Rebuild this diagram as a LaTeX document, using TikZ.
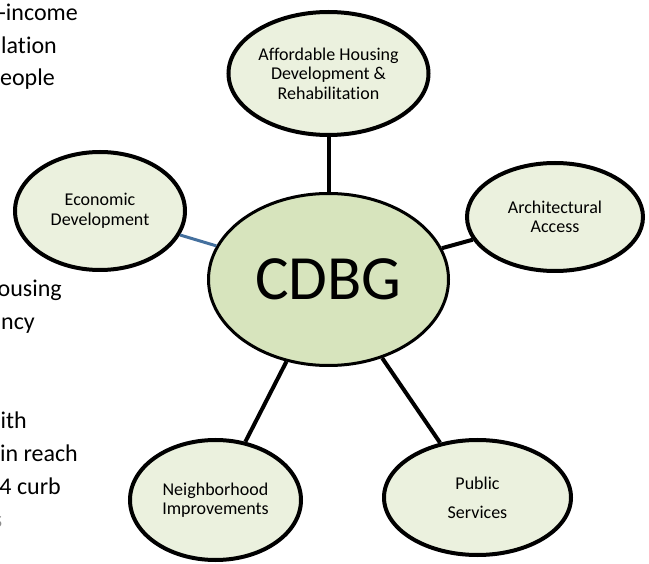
\documentclass[tikz,border=0pt]{standalone}
\usepackage{fontspec}
\setmainfont{Carlito}[Ligatures=NoCommon]
\usetikzlibrary{shapes.geometric}
\definecolor{leaffill}{HTML}{EBF1DE}
\definecolor{hubfill}{HTML}{D7E4BD}
\definecolor{bluelink}{HTML}{44709E}
\tikzset{
  leaf/.style={ellipse, draw=black, line width=4pt, fill=leaffill, inner sep=0pt,
    align=center, font=\fontsize{18}{19.5}\selectfont},
  hub/.style={ellipse, draw=black, line width=3pt, fill=hubfill, inner sep=0pt,
    font=\fontsize{63}{70}\selectfont},
  link/.style={draw=black, line width=4pt},
  bluelinkstyle/.style={draw=bluelink, line width=3pt},
  sidetext/.style={anchor=base east, inner sep=0pt, font=\fontsize{24}{32}\selectfont}
}
\begin{document}
\begin{tikzpicture}[x=1pt,y=-1pt]
\useasboundingbox (0,0) rectangle (649,564);
\begin{scope}
\clip (0,0) rectangle (649,564);
% cut-off side text
\node[sidetext] (t1) at (78,21) {-income};
\node[sidetext] (t2) at (57,54) {lation};
\node[sidetext] (t3) at (55,86) {eople};
\node[sidetext] (t4) at (62,297) {ousing};
\node[sidetext] (t5) at (35,330) {ncy};
\node[sidetext] (t6) at (27,429) {ith};
\node[sidetext] (t7) at (78,462) {in reach};
\node[sidetext] (t8) at (61,495) {4 curb};
\node[sidetext, text=black!45] (t9) at (2.5,527) {s};
% ellipses
\node[hub, minimum width=240, minimum height=172] (cdbg) at (328.5,279.5) {CDBG};
\node[leaf, minimum width=200, minimum height=123] (house) at (328.5,73.5)
  {Affordable Housing\\Development \&\\Rehabilitation};
\node[leaf, minimum width=170, minimum height=118] (econ) at (100,211)
  {Economic\\Development};
\node[leaf, minimum width=176, minimum height=108] (arch) at (555,217)
  {Architectural\\Access};
\node[leaf, minimum width=171, minimum height=120] (neigh) at (215.5,500)
  {Neighborhood\\Improvements};
\node[leaf, minimum width=187, minimum height=115] (pub) at (477.5,497.5)
  {Public\\[9.5pt]Services};
% connectors
\draw[link] (house) -- (cdbg);
\draw[link] (arch) -- (cdbg);
\draw[link] (neigh) -- (cdbg);
\draw[link] (pub) -- (cdbg);
\draw[bluelinkstyle] (econ) -- (cdbg);
\end{scope}
\end{tikzpicture}
\end{document}
